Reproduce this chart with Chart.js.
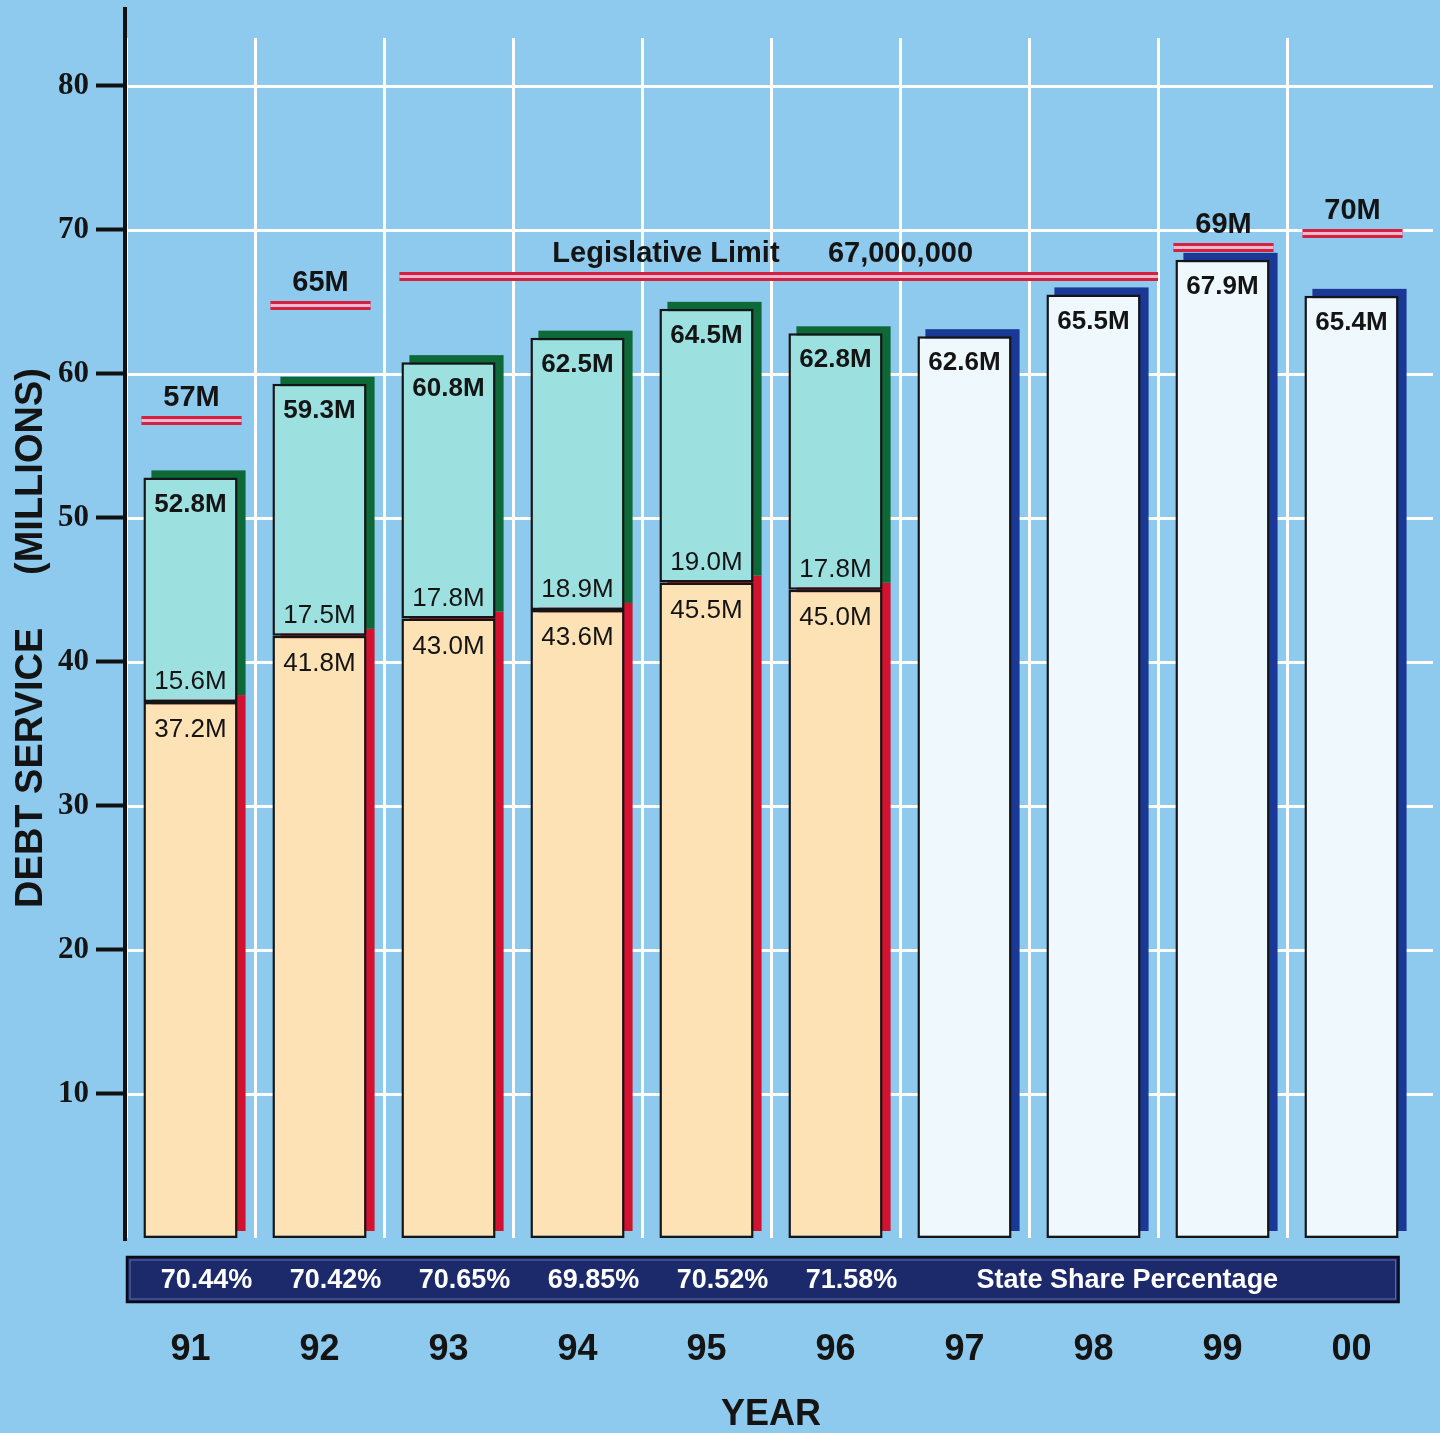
<!DOCTYPE html>
<html>
<head>
<meta charset="utf-8">
<script src="https://cdn.jsdelivr.net/npm/chart.js@4.4.1/dist/chart.umd.min.js"></script>
<style>
  html, body { margin: 0; padding: 0; background: #8ecaee; overflow: hidden; }
  canvas { display: block; }
</style>
</head>
<body>
<canvas id="debtChart" width="1440" height="1433"></canvas>
<script>
// debt service by fiscal year, in millions
const years = ['91', '92', '93', '94', '95', '96', '97', '98', '99', '00'];
const stateShare = [37.2, 41.8, 43.0, 43.6, 45.5, 45.0, null, null, null, null];
const localShare = [15.6, 17.5, 17.8, 18.9, 19.0, 17.8, null, null, null, null];
const projected = [null, null, null, null, null, null, 62.6, 65.5, 67.9, 65.4];
const debtLimits = [57, 65, 67, 67, 67, 67, 67, 67, 69, 70];
const statePercent = [70.44, 70.42, 70.65, 69.85, 70.52, 71.58];
const yTicks = [10, 20, 30, 40, 50, 60, 70, 80];

const SANS = '"Liberation Sans", Arial, sans-serif';
const SERIF = '"Liberation Serif", "Times New Roman", serif';
const INK = '#141414';
const SHADOW_DX = 8;
const SHADOW_DY = -7;

function barBox(el) {
  const p = el.getProps(['x', 'y', 'base', 'width'], true);
  return {
    x: p.x,
    left: p.x - p.width / 2,
    right: p.x + p.width / 2,
    top: Math.min(p.y, p.base),
    bottom: Math.max(p.y, p.base)
  };
}

// topmost drawn segment of the stack at index i
function faceAt(chart, i) {
  for (let d = chart.data.datasets.length - 1; d >= 0; d--) {
    if (chart.data.datasets[d].data[i] != null) return barBox(chart.getDatasetMeta(d).data[i]);
  }
  return null;
}

// group neighbouring years that share the same limit
function limitRuns() {
  const runs = [];
  debtLimits.forEach((v, i) => {
    const last = runs[runs.length - 1];
    if (last && last.value === v && last.end === i - 1) last.end = i;
    else runs.push({ value: v, start: i, end: i });
  });
  return runs;
}

const backdrop = {
  id: 'backdrop',
  beforeDatasetsDraw(chart) {
    const { ctx, chartArea: a, scales: { y } } = chart;
    ctx.save();
    // horizontal grid, carried past the last bar to the edge
    ctx.strokeStyle = '#ffffff';
    ctx.lineWidth = 3;
    yTicks.forEach(v => {
      const py = Math.round(y.getPixelForValue(v)) + 0.5;
      ctx.beginPath();
      ctx.moveTo(a.left, py);
      ctx.lineTo(chart.width - 7, py);
      ctx.stroke();
    });
    // solid offset shadow behind every segment
    chart.data.datasets.forEach((ds, di) => {
      const meta = chart.getDatasetMeta(di);
      ctx.fillStyle = ds.shadowColor;
      meta.data.forEach((el, i) => {
        if (ds.data[i] == null) return;
        const b = barBox(el);
        ctx.fillRect(b.left + SHADOW_DX, b.top + SHADOW_DY, b.right - b.left, b.bottom - b.top);
      });
    });
    ctx.restore();
  }
};

const annotations = {
  id: 'annotations',
  afterDatasetsDraw(chart) {
    const { ctx, chartArea: a, scales: { x, y } } = chart;
    const stateMeta = chart.getDatasetMeta(0);
    const localMeta = chart.getDatasetMeta(1);
    ctx.save();
    ctx.textAlign = 'center';
    ctx.textBaseline = 'middle';
    ctx.fillStyle = INK;

    // value labels inside the bars
    years.forEach((yr, i) => {
      if (stateShare[i] != null) {
        const s = barBox(stateMeta.data[i]);
        const l = barBox(localMeta.data[i]);
        ctx.font = `26px ${SANS}`;
        ctx.fillText(stateShare[i].toFixed(1) + 'M', s.x, s.top + 28);
        ctx.fillText(localShare[i].toFixed(1) + 'M', s.x, s.top - 20);
        ctx.font = `bold 26px ${SANS}`;
        ctx.fillText((stateShare[i] + localShare[i]).toFixed(1) + 'M', l.x, l.top + 27);
      } else {
        const p = faceAt(chart, i);
        ctx.font = `bold 26px ${SANS}`;
        ctx.fillText(projected[i].toFixed(1) + 'M', p.x, p.top + 27);
      }
    });

    // double red limit lines with their captions
    const catW = x.getPixelForValue(1) - x.getPixelForValue(0);
    limitRuns().forEach(run => {
      const first = faceAt(chart, run.start);
      const last = faceAt(chart, run.end);
      const left = first.left - 2;
      const right = run.start === run.end ? last.right + 4 : x.getPixelForValue(run.end) + catW / 2;
      const py = Math.round(y.getPixelForValue(run.value)) + 3;
      ctx.fillStyle = '#d5203f';
      ctx.fillRect(left, py - 4, right - left, 9);
      ctx.fillStyle = '#eab9cf';
      ctx.fillRect(left, py - 1, right - left, 3);
      ctx.fillStyle = INK;
      if (run.start === run.end) {
        ctx.font = `bold 29px ${SANS}`;
        ctx.fillText(run.value + 'M', (left + right) / 2, py - 22);
      } else {
        ctx.font = `bold 29px ${SANS}`;
        const amount = (run.value * 1e6).toLocaleString('en-US');
        ctx.fillText('Legislative Limit      ' + amount, (left + right) / 2 - 16, py - 22);
      }
    });

    // state share band under the bars
    const bandTop = a.bottom + 19;
    const bandH = 45;
    const bandLeft = a.left + 1;
    const bandRight = faceAt(chart, years.length - 1).right;
    ctx.fillStyle = '#1c2a6c';
    ctx.fillRect(bandLeft, bandTop, bandRight - bandLeft, bandH);
    ctx.strokeStyle = '#0b0b18';
    ctx.lineWidth = 2.5;
    ctx.strokeRect(bandLeft, bandTop, bandRight - bandLeft, bandH);
    ctx.strokeStyle = 'rgba(140,160,210,0.6)';
    ctx.lineWidth = 1;
    ctx.strokeRect(bandLeft + 3, bandTop + 3, bandRight - bandLeft - 6, bandH - 6);
    ctx.fillStyle = '#ffffff';
    ctx.font = `bold 27px ${SANS}`;
    statePercent.forEach((v, i) => {
      ctx.fillText(v.toFixed(2) + '%', x.getPixelForValue(i) + 16, bandTop + bandH / 2 + 1);
    });
    ctx.textAlign = 'left';
    ctx.fillText('State Share Percentage', x.getPixelForValue(statePercent.length) + 12, bandTop + bandH / 2 + 1);

    // vertical axis line
    ctx.strokeStyle = '#111111';
    ctx.lineWidth = 4;
    ctx.beginPath();
    ctx.moveTo(a.left - 1, 7);
    ctx.lineTo(a.left - 1, a.bottom + 3);
    ctx.stroke();
    ctx.restore();
  }
};

new Chart(document.getElementById('debtChart'), {
  type: 'bar',
  data: {
    labels: years,
    datasets: [
      { label: 'State Share', data: stateShare, backgroundColor: '#fde2b5', shadowColor: '#d3122f' },
      { label: 'Local Share', data: localShare, backgroundColor: '#9de0e0', shadowColor: '#0d6a38' },
      { label: 'Projected', data: projected, backgroundColor: '#eef8fd', shadowColor: '#1a3895' }
    ]
  },
  options: {
    responsive: false,
    animation: false,
    layout: { padding: { top: 38, right: 24, left: 0, bottom: 0 } },
    datasets: {
      bar: {
        borderColor: '#151515',
        borderWidth: 2.5,
        borderSkipped: false,
        barPercentage: 0.73,
        categoryPercentage: 1
      }
    },
    plugins: {
      legend: { display: false },
      tooltip: { enabled: false }
    },
    scales: {
      x: {
        stacked: true,
        grid: {
          offset: true,
          color: c => (c.type === 'tick' ? '#ffffff' : 'rgba(0,0,0,0)'),
          lineWidth: 3,
          drawTicks: true,
          tickLength: 90,
          tickColor: 'rgba(0,0,0,0)'
        },
        border: { display: false },
        ticks: {
          padding: 0,
          color: INK,
          font: { family: SANS, size: 36, weight: 'bold' }
        },
        title: {
          display: true,
          text: 'YEAR',
          color: INK,
          padding: { top: 0, bottom: 0 },
          font: { family: SANS, size: 36, weight: 'bold', lineHeight: 1 }
        },
        afterFit: s => { s.height = 195; }
      },
      y: {
        stacked: true,
        min: 0,
        max: 83.3,
        afterBuildTicks: s => { s.ticks = yTicks.map(v => ({ value: v })); },
        grid: {
          drawOnChartArea: false,
          drawTicks: true,
          tickLength: 30,
          tickWidth: 4,
          tickColor: '#111111'
        },
        border: { display: false },
        ticks: {
          padding: 7,
          color: INK,
          font: { family: SERIF, size: 31, weight: 'bold' }
        },
        title: {
          display: true,
          text: 'DEBT SERVICE     (MILLIONS)',
          color: INK,
          padding: { top: 9, bottom: 0 },
          font: { family: SANS, size: 38, weight: 'bold' }
        },
        afterFit: s => { s.width = 126; }
      }
    }
  },
  plugins: [backdrop, annotations]
});
</script>
</body>
</html>
